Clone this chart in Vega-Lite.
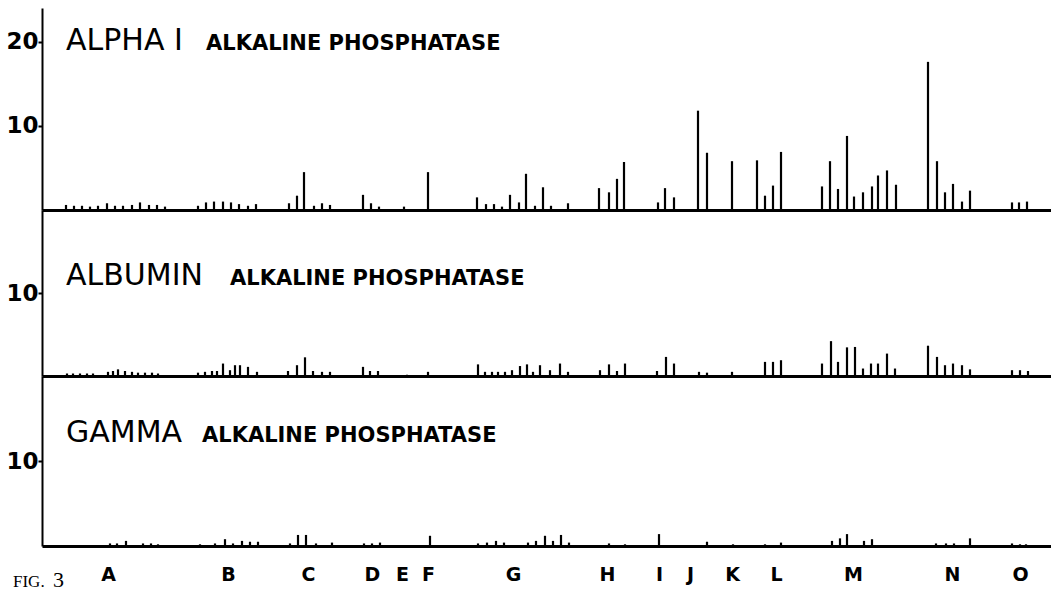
{
  "$schema": "https://vega.github.io/schema/vega-lite/v6.json",
  "background": "white",
  "padding": {"left": 2, "top": 8, "right": 0, "bottom": 0},
  "config": {
    "view": {"stroke": null},
    "concat": {"spacing": 0},
    "axisY": {"title": null, "grid": false, "domainColor": "black", "domainWidth": 2, "tickColor": "black", "tickWidth": 2, "tickSize": 4, "labelFont": "DejaVu Sans", "labelFontWeight": "bold", "labelFontSize": 23, "labelColor": "black", "labelPadding": 0, "minExtent": 40, "maxExtent": 40},
    "axisX": {"title": null, "grid": false, "domainColor": "black", "domainWidth": 3, "ticks": false, "labels": false}
  },
  "datasets": {
    "bars": [
      {"panel":"ALPHA","pos":66,"value":0.6},{"panel":"ALPHA","pos":74,"value":0.5},{"panel":"ALPHA","pos":82,"value":0.5},{"panel":"ALPHA","pos":90,"value":0.4},{"panel":"ALPHA","pos":98,"value":0.5},{"panel":"ALPHA","pos":107,"value":0.8},{"panel":"ALPHA","pos":115,"value":0.5},{"panel":"ALPHA","pos":123,"value":0.5},{"panel":"ALPHA","pos":132,"value":0.6},{"panel":"ALPHA","pos":140,"value":0.9},{"panel":"ALPHA","pos":149,"value":0.6},{"panel":"ALPHA","pos":157,"value":0.6},{"panel":"ALPHA","pos":165,"value":0.4},
      {"panel":"ALPHA","pos":198,"value":0.5},{"panel":"ALPHA","pos":206,"value":0.9},{"panel":"ALPHA","pos":214,"value":1.0},{"panel":"ALPHA","pos":223,"value":1.0},{"panel":"ALPHA","pos":231,"value":0.9},{"panel":"ALPHA","pos":239,"value":0.7},{"panel":"ALPHA","pos":248,"value":0.5},{"panel":"ALPHA","pos":256,"value":0.7},
      {"panel":"ALPHA","pos":289,"value":0.8},{"panel":"ALPHA","pos":297,"value":1.7},{"panel":"ALPHA","pos":304,"value":4.5},{"panel":"ALPHA","pos":314,"value":0.5},{"panel":"ALPHA","pos":322,"value":0.8},{"panel":"ALPHA","pos":330,"value":0.6},
      {"panel":"ALPHA","pos":363,"value":1.8},{"panel":"ALPHA","pos":371,"value":0.8},{"panel":"ALPHA","pos":379,"value":0.4},
      {"panel":"ALPHA","pos":404,"value":0.4},
      {"panel":"ALPHA","pos":428,"value":4.5},
      {"panel":"ALPHA","pos":477,"value":1.5},{"panel":"ALPHA","pos":486,"value":0.7},{"panel":"ALPHA","pos":494,"value":0.7},{"panel":"ALPHA","pos":502,"value":0.4},{"panel":"ALPHA","pos":510,"value":1.8},{"panel":"ALPHA","pos":519,"value":0.9},{"panel":"ALPHA","pos":526,"value":4.3},{"panel":"ALPHA","pos":535,"value":0.5},{"panel":"ALPHA","pos":543,"value":2.7},{"panel":"ALPHA","pos":551,"value":0.5},{"panel":"ALPHA","pos":568,"value":0.8},
      {"panel":"ALPHA","pos":599,"value":2.6},{"panel":"ALPHA","pos":609,"value":2.1},{"panel":"ALPHA","pos":617,"value":3.7},{"panel":"ALPHA","pos":624,"value":5.7},
      {"panel":"ALPHA","pos":658,"value":0.9},{"panel":"ALPHA","pos":665,"value":2.6},{"panel":"ALPHA","pos":674,"value":1.5},
      {"panel":"ALPHA","pos":698,"value":11.8},{"panel":"ALPHA","pos":707,"value":6.8},
      {"panel":"ALPHA","pos":732,"value":5.8},
      {"panel":"ALPHA","pos":757,"value":5.9},{"panel":"ALPHA","pos":765,"value":1.7},{"panel":"ALPHA","pos":773,"value":2.9},{"panel":"ALPHA","pos":781,"value":6.9},
      {"panel":"ALPHA","pos":822,"value":2.8},{"panel":"ALPHA","pos":830,"value":5.8},{"panel":"ALPHA","pos":838,"value":2.5},{"panel":"ALPHA","pos":847,"value":8.8},{"panel":"ALPHA","pos":854,"value":1.6},{"panel":"ALPHA","pos":863,"value":2.1},{"panel":"ALPHA","pos":872,"value":2.8},{"panel":"ALPHA","pos":878,"value":4.1},{"panel":"ALPHA","pos":887,"value":4.7},{"panel":"ALPHA","pos":896,"value":3.0},
      {"panel":"ALPHA","pos":928,"value":17.6},{"panel":"ALPHA","pos":937,"value":5.8},{"panel":"ALPHA","pos":945,"value":2.1},{"panel":"ALPHA","pos":953,"value":3.1},{"panel":"ALPHA","pos":962,"value":1.0},{"panel":"ALPHA","pos":970,"value":2.3},
      {"panel":"ALPHA","pos":1012,"value":0.9},{"panel":"ALPHA","pos":1019,"value":0.9},{"panel":"ALPHA","pos":1027,"value":1.0},

      {"panel":"ALBUMIN","pos":67,"value":0.3},{"panel":"ALBUMIN","pos":73,"value":0.3},{"panel":"ALBUMIN","pos":80,"value":0.3},{"panel":"ALBUMIN","pos":87,"value":0.3},{"panel":"ALBUMIN","pos":93,"value":0.3},{"panel":"ALBUMIN","pos":108,"value":0.5},{"panel":"ALBUMIN","pos":113,"value":0.6},{"panel":"ALBUMIN","pos":118,"value":0.8},{"panel":"ALBUMIN","pos":125,"value":0.6},{"panel":"ALBUMIN","pos":132,"value":0.5},{"panel":"ALBUMIN","pos":138,"value":0.4},{"panel":"ALBUMIN","pos":145,"value":0.4},{"panel":"ALBUMIN","pos":152,"value":0.4},{"panel":"ALBUMIN","pos":158,"value":0.3},
      {"panel":"ALBUMIN","pos":198,"value":0.4},{"panel":"ALBUMIN","pos":205,"value":0.5},{"panel":"ALBUMIN","pos":212,"value":0.6},{"panel":"ALBUMIN","pos":217,"value":0.6},{"panel":"ALBUMIN","pos":223,"value":1.5},{"panel":"ALBUMIN","pos":230,"value":0.7},{"panel":"ALBUMIN","pos":235,"value":1.3},{"panel":"ALBUMIN","pos":240,"value":1.3},{"panel":"ALBUMIN","pos":248,"value":1.1},{"panel":"ALBUMIN","pos":257,"value":0.5},
      {"panel":"ALBUMIN","pos":288,"value":0.6},{"panel":"ALBUMIN","pos":297,"value":1.3},{"panel":"ALBUMIN","pos":305,"value":2.25},{"panel":"ALBUMIN","pos":313,"value":0.6},{"panel":"ALBUMIN","pos":322,"value":0.5},{"panel":"ALBUMIN","pos":330,"value":0.5},
      {"panel":"ALBUMIN","pos":363,"value":1.1},{"panel":"ALBUMIN","pos":370,"value":0.6},{"panel":"ALBUMIN","pos":378,"value":0.6},
      {"panel":"ALBUMIN","pos":407,"value":0.15},
      {"panel":"ALBUMIN","pos":428,"value":0.5},
      {"panel":"ALBUMIN","pos":478,"value":1.4},{"panel":"ALBUMIN","pos":485,"value":0.5},{"panel":"ALBUMIN","pos":492,"value":0.5},{"panel":"ALBUMIN","pos":498,"value":0.5},{"panel":"ALBUMIN","pos":505,"value":0.5},{"panel":"ALBUMIN","pos":512,"value":0.7},{"panel":"ALBUMIN","pos":520,"value":1.2},{"panel":"ALBUMIN","pos":527,"value":1.4},{"panel":"ALBUMIN","pos":533,"value":0.5},{"panel":"ALBUMIN","pos":540,"value":1.3},{"panel":"ALBUMIN","pos":550,"value":0.7},{"panel":"ALBUMIN","pos":560,"value":1.5},{"panel":"ALBUMIN","pos":568,"value":0.5},
      {"panel":"ALBUMIN","pos":600,"value":0.7},{"panel":"ALBUMIN","pos":609,"value":1.4},{"panel":"ALBUMIN","pos":617,"value":0.6},{"panel":"ALBUMIN","pos":625,"value":1.5},
      {"panel":"ALBUMIN","pos":657,"value":0.6},{"panel":"ALBUMIN","pos":666,"value":2.3},{"panel":"ALBUMIN","pos":674,"value":1.5},
      {"panel":"ALBUMIN","pos":699,"value":0.5},{"panel":"ALBUMIN","pos":707,"value":0.4},
      {"panel":"ALBUMIN","pos":732,"value":0.5},
      {"panel":"ALBUMIN","pos":765,"value":1.7},{"panel":"ALBUMIN","pos":773,"value":1.7},{"panel":"ALBUMIN","pos":781,"value":1.9},
      {"panel":"ALBUMIN","pos":822,"value":1.5},{"panel":"ALBUMIN","pos":831,"value":4.2},{"panel":"ALBUMIN","pos":838,"value":1.7},{"panel":"ALBUMIN","pos":847,"value":3.45},{"panel":"ALBUMIN","pos":855,"value":3.5},{"panel":"ALBUMIN","pos":863,"value":0.9},{"panel":"ALBUMIN","pos":871,"value":1.5},{"panel":"ALBUMIN","pos":878,"value":1.5},{"panel":"ALBUMIN","pos":887,"value":2.7},{"panel":"ALBUMIN","pos":895,"value":0.9},
      {"panel":"ALBUMIN","pos":928,"value":3.65},{"panel":"ALBUMIN","pos":937,"value":2.3},{"panel":"ALBUMIN","pos":945,"value":1.3},{"panel":"ALBUMIN","pos":953,"value":1.5},{"panel":"ALBUMIN","pos":962,"value":1.3},{"panel":"ALBUMIN","pos":970,"value":0.8},
      {"panel":"ALBUMIN","pos":1012,"value":0.7},{"panel":"ALBUMIN","pos":1020,"value":0.7},{"panel":"ALBUMIN","pos":1028,"value":0.6},

      {"panel":"GAMMA","pos":110,"value":0.3},{"panel":"GAMMA","pos":117,"value":0.3},{"panel":"GAMMA","pos":126,"value":0.6},{"panel":"GAMMA","pos":143,"value":0.3},{"panel":"GAMMA","pos":151,"value":0.3},{"panel":"GAMMA","pos":158,"value":0.2},
      {"panel":"GAMMA","pos":200,"value":0.2},{"panel":"GAMMA","pos":215,"value":0.3},{"panel":"GAMMA","pos":225,"value":0.8},{"panel":"GAMMA","pos":233,"value":0.3},{"panel":"GAMMA","pos":242,"value":0.6},{"panel":"GAMMA","pos":250,"value":0.5},{"panel":"GAMMA","pos":258,"value":0.5},
      {"panel":"GAMMA","pos":290,"value":0.3},{"panel":"GAMMA","pos":298,"value":1.3},{"panel":"GAMMA","pos":306,"value":1.3},{"panel":"GAMMA","pos":316,"value":0.3},{"panel":"GAMMA","pos":332,"value":0.4},
      {"panel":"GAMMA","pos":364,"value":0.3},{"panel":"GAMMA","pos":372,"value":0.3},{"panel":"GAMMA","pos":380,"value":0.4},
      {"panel":"GAMMA","pos":430,"value":1.2},
      {"panel":"GAMMA","pos":478,"value":0.3},{"panel":"GAMMA","pos":487,"value":0.4},{"panel":"GAMMA","pos":496,"value":0.6},{"panel":"GAMMA","pos":504,"value":0.4},{"panel":"GAMMA","pos":528,"value":0.4},{"panel":"GAMMA","pos":536,"value":0.6},{"panel":"GAMMA","pos":545,"value":1.2},{"panel":"GAMMA","pos":553,"value":0.6},{"panel":"GAMMA","pos":561,"value":1.3},{"panel":"GAMMA","pos":569,"value":0.4},
      {"panel":"GAMMA","pos":609,"value":0.3},{"panel":"GAMMA","pos":625,"value":0.2},
      {"panel":"GAMMA","pos":659,"value":1.4},
      {"panel":"GAMMA","pos":707,"value":0.5},
      {"panel":"GAMMA","pos":733,"value":0.2},
      {"panel":"GAMMA","pos":765,"value":0.2},{"panel":"GAMMA","pos":781,"value":0.4},
      {"panel":"GAMMA","pos":832,"value":0.6},{"panel":"GAMMA","pos":840,"value":0.9},{"panel":"GAMMA","pos":847,"value":1.4},{"panel":"GAMMA","pos":864,"value":0.6},{"panel":"GAMMA","pos":872,"value":0.8},
      {"panel":"GAMMA","pos":936,"value":0.3},{"panel":"GAMMA","pos":946,"value":0.3},{"panel":"GAMMA","pos":954,"value":0.3},{"panel":"GAMMA","pos":970,"value":0.9},
      {"panel":"GAMMA","pos":1012,"value":0.3},{"panel":"GAMMA","pos":1020,"value":0.2},{"panel":"GAMMA","pos":1026,"value":0.2}
    ],
    "titles": [
      {"panel":"ALPHA","big":"ALPHA I","small":"ALKALINE PHOSPHATASE"},
      {"panel":"ALBUMIN","big":"ALBUMIN","small":"ALKALINE PHOSPHATASE"},
      {"panel":"GAMMA","big":"GAMMA","small":"ALKALINE PHOSPHATASE"}
    ],
    "figure": [{"fig":"FIG.","num":"3"}]
  },
  "vconcat": [
    {
      "width": 1009, "height": 202,
      "layer": [
        {
          "data": {"name": "bars"},
          "transform": [{"filter": "datum.panel === 'ALPHA'"}],
          "mark": {"type": "rule", "color": "black", "strokeWidth": 2.2},
          "encoding": {
            "x": {"field": "pos", "type": "quantitative", "scale": {"domain": [42, 1051], "nice": false, "zero": false}},
            "y": {"field": "value", "type": "quantitative", "scale": {"domain": [0, 24], "nice": false}, "axis": {"values": [10, 20]}},
            "y2": {"datum": 0}
          }
        },
        {
          "data": {"name": "titles"},
          "transform": [{"filter": "datum.panel === 'ALPHA'"}],
          "mark": {"type": "text", "align": "left", "baseline": "alphabetic", "font": "DejaVu Sans", "fontSize": 30, "color": "black"},
          "encoding": {"x": {"datum": 66}, "y": {"datum": 19.0}, "text": {"field": "big"}}
        },
        {
          "data": {"name": "titles"},
          "transform": [{"filter": "datum.panel === 'ALPHA'"}],
          "mark": {"type": "text", "align": "left", "baseline": "alphabetic", "font": "DejaVu Sans", "fontWeight": "bold", "fontSize": 21, "color": "black"},
          "encoding": {"x": {"datum": 206}, "y": {"datum": 19.0}, "text": {"field": "small"}}
        }
      ]
    },
    {
      "width": 1009, "height": 166,
      "layer": [
        {
          "data": {"name": "bars"},
          "transform": [{"filter": "datum.panel === 'ALBUMIN'"}],
          "mark": {"type": "rule", "color": "black", "strokeWidth": 2.2},
          "encoding": {
            "x": {"field": "pos", "type": "quantitative", "scale": {"domain": [42, 1051], "nice": false, "zero": false}},
            "y": {"field": "value", "type": "quantitative", "scale": {"domain": [0, 20], "nice": false}, "axis": {"values": [10]}},
            "y2": {"datum": 0}
          }
        },
        {
          "data": {"name": "titles"},
          "transform": [{"filter": "datum.panel === 'ALBUMIN'"}],
          "mark": {"type": "text", "align": "left", "baseline": "alphabetic", "font": "DejaVu Sans", "fontSize": 30, "color": "black"},
          "encoding": {"x": {"datum": 66}, "y": {"datum": 11.0}, "text": {"field": "big"}}
        },
        {
          "data": {"name": "titles"},
          "transform": [{"filter": "datum.panel === 'ALBUMIN'"}],
          "mark": {"type": "text", "align": "left", "baseline": "alphabetic", "font": "DejaVu Sans", "fontWeight": "bold", "fontSize": 21, "color": "black"},
          "encoding": {"x": {"datum": 230}, "y": {"datum": 11.0}, "text": {"field": "small"}}
        }
      ]
    },
    {
      "width": 1009, "height": 170,
      "layer": [
        {
          "data": {"name": "bars"},
          "transform": [{"filter": "datum.panel === 'GAMMA'"}],
          "mark": {"type": "rule", "color": "black", "strokeWidth": 2.2},
          "encoding": {
            "x": {"field": "pos", "type": "quantitative", "scale": {"domain": [42, 1051], "nice": false, "zero": false},
              "axis": {"labels": true, "values": [108, 228, 308, 372, 402, 428, 513, 607, 659, 690, 732, 776, 853, 952, 1020],
                "labelExpr": "['A','B','C','D','E','F','G','H','I','J','K','L','M','N','O'][indexof([108, 228, 308, 372, 402, 428, 513, 607, 659, 690, 732, 776, 853, 952, 1020], datum.value)]",
                "labelFont": "DejaVu Sans", "labelFontWeight": "bold", "labelFontSize": 19, "labelColor": "black", "labelBaseline": "alphabetic", "labelPadding": 34, "labelOverlap": false, "labelFlush": false}},
            "y": {"field": "value", "type": "quantitative", "scale": {"domain": [0, 20], "nice": false}, "axis": {"values": [10]}},
            "y2": {"datum": 0}
          }
        },
        {
          "data": {"name": "titles"},
          "transform": [{"filter": "datum.panel === 'GAMMA'"}],
          "mark": {"type": "text", "align": "left", "baseline": "alphabetic", "font": "DejaVu Sans", "fontSize": 30, "color": "black"},
          "encoding": {"x": {"datum": 66}, "y": {"datum": 12.2}, "text": {"field": "big"}}
        },
        {
          "data": {"name": "titles"},
          "transform": [{"filter": "datum.panel === 'GAMMA'"}],
          "mark": {"type": "text", "align": "left", "baseline": "alphabetic", "font": "DejaVu Sans", "fontWeight": "bold", "fontSize": 21, "color": "black"},
          "encoding": {"x": {"datum": 202}, "y": {"datum": 12.2}, "text": {"field": "small"}}
        },
        {
          "data": {"name": "figure"},
          "mark": {"type": "text", "align": "left", "baseline": "alphabetic", "font": "Liberation Serif", "fontSize": 17, "color": "black"},
          "encoding": {"x": {"datum": 13}, "y": {"datum": -4.8}, "text": {"field": "fig"}}
        },
        {
          "data": {"name": "figure"},
          "mark": {"type": "text", "align": "left", "baseline": "alphabetic", "font": "Liberation Serif", "fontSize": 22, "color": "black"},
          "encoding": {"x": {"datum": 53}, "y": {"datum": -4.8}, "text": {"field": "num"}}
        }
      ]
    }
  ],
  "bounds": "flush"
}
